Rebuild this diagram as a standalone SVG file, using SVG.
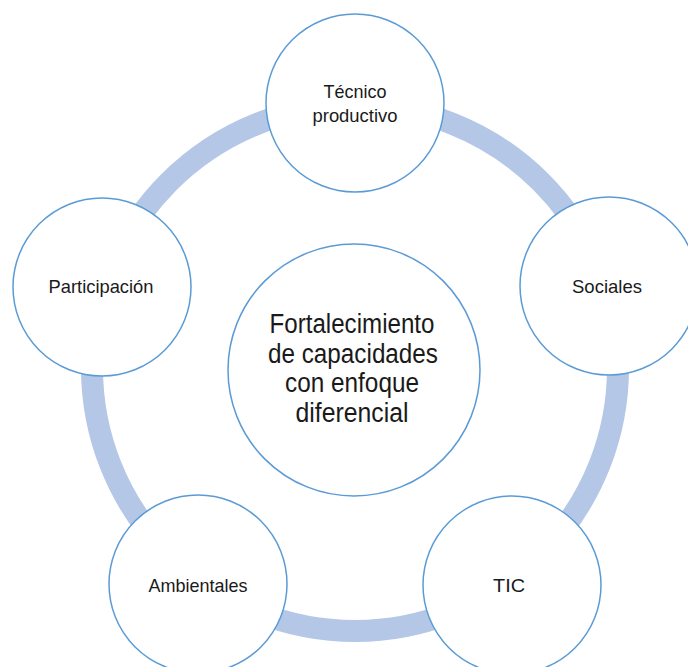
<svg xmlns="http://www.w3.org/2000/svg" width="688" height="667" viewBox="0 0 688 667">
<style>
.node{fill:#ffffff;stroke:#5b9bd5;stroke-width:1.5}
.lbl{font-family:"Liberation Sans",Arial,sans-serif;font-size:19px;fill:#1a1a1a;text-anchor:middle}
.big{font-family:"Liberation Sans",Arial,sans-serif;font-size:27px;fill:#1a1a1a;text-anchor:middle}
</style>
<rect width="688" height="667" fill="#ffffff"/>
<g id="connectors">
<circle cx="355" cy="368" r="263" fill="none" stroke="#b4c7e7" stroke-width="22"/>
</g>
<g id="center">
<circle class="node" cx="354" cy="370" r="126"/>
<text class="big" x="352" y="333" textLength="165" lengthAdjust="spacingAndGlyphs">Fortalecimiento</text>
<text class="big" x="353" y="363" textLength="170" lengthAdjust="spacingAndGlyphs">de capacidades</text>
<text class="big" x="352" y="392" textLength="134" lengthAdjust="spacingAndGlyphs">con enfoque</text>
<text class="big" x="352" y="422" textLength="113" lengthAdjust="spacingAndGlyphs">diferencial</text>
</g>
<g id="tecnico">
<circle class="node" cx="355" cy="103" r="89"/>
<text class="lbl" x="355" y="98" textLength="63" lengthAdjust="spacingAndGlyphs">Técnico</text>
<text class="lbl" x="355" y="122" textLength="85" lengthAdjust="spacingAndGlyphs">productivo</text>
</g>
<g id="sociales">
<circle class="node" cx="609" cy="286" r="89"/>
<text class="lbl" x="607" y="293" textLength="70" lengthAdjust="spacingAndGlyphs">Sociales</text>
</g>
<g id="tic">
<circle class="node" cx="512" cy="585" r="89"/>
<text class="lbl" x="509" y="592" textLength="32" lengthAdjust="spacingAndGlyphs">TIC</text>
</g>
<g id="ambientales">
<circle class="node" cx="198" cy="584" r="89"/>
<text class="lbl" x="198" y="592" textLength="99" lengthAdjust="spacingAndGlyphs">Ambientales</text>
</g>
<g id="participacion">
<circle class="node" cx="102" cy="287" r="89"/>
<text class="lbl" x="101" y="293" textLength="105" lengthAdjust="spacingAndGlyphs">Participación</text>
</g>
</svg>
